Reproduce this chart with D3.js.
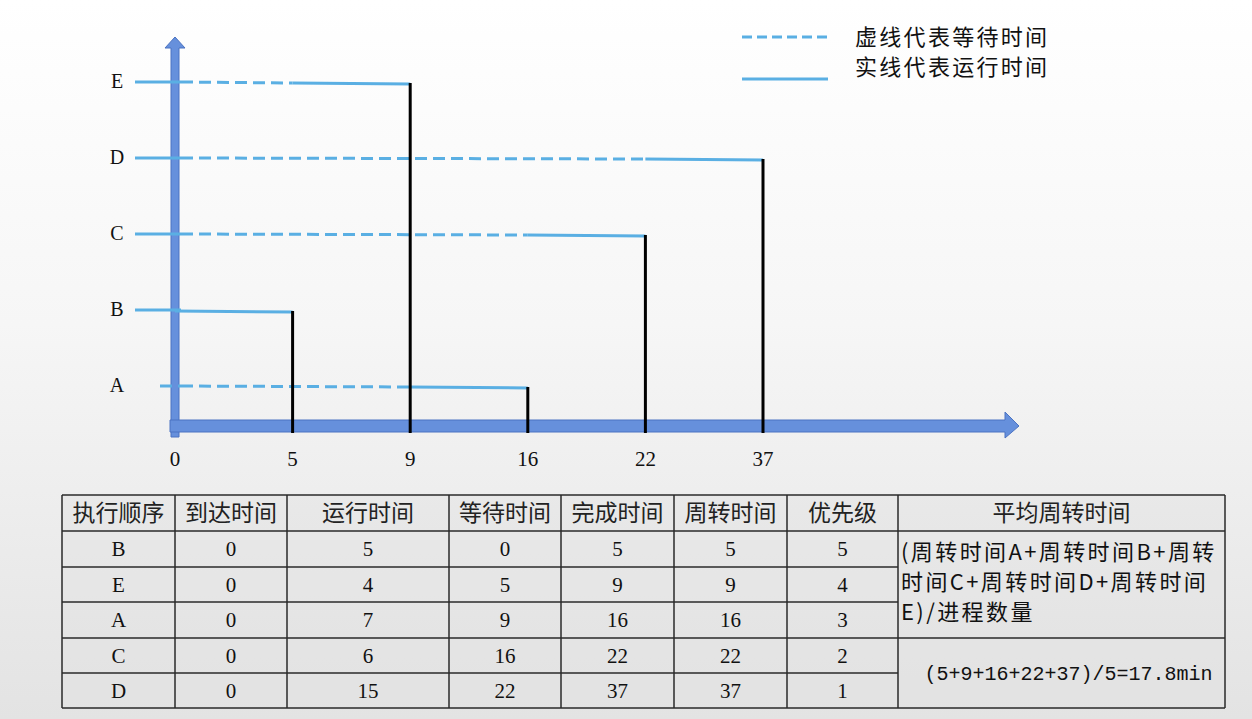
<!DOCTYPE html>
<html><head><meta charset="utf-8">
<script src="https://cdn.jsdelivr.net/npm/d3@7"></script>
<style>
html,body{margin:0;padding:0;}
body{width:1252px;height:719px;overflow:hidden;}
</style></head>
<body>
<svg id="c" width="1252" height="719"></svg>
<script>
// ---- data ----
const timeTicks = [0, 5, 9, 16, 22, 37];
const processes = ["A", "B", "C", "D", "E"];
// each process: waiting interval [arrive, start], running interval [start, finish]
const procArrive = {A: 0, B: 0, C: 0, D: 0, E: 0};
const procStart  = {A: 9, B: 0, C: 16, D: 22, E: 5};
const procFinish = {A: 16, B: 5, C: 22, D: 37, E: 9};

const legendLabels = ["虚线代表等待时间", "实线代表运行时间"];

const tableHeader = ["执行顺序", "到达时间", "运行时间", "等待时间", "完成时间", "周转时间", "优先级", "平均周转时间"];
const execOrder   = ["B", "E", "A", "C", "D"];
const arriveCol   = [0, 0, 0, 0, 0];
const runCol      = [5, 4, 7, 6, 15];
const waitCol     = [0, 5, 9, 16, 22];
const finishCol   = [5, 9, 16, 22, 37];
const turnCol     = [5, 9, 16, 22, 37];
const priorityCol = [5, 4, 3, 2, 1];
const avgFormulaLines = ["(周转时间A+周转时间B+周转", "时间C+周转时间D+周转时间", "E)/进程数量"];
const avgResult = "(5+9+16+22+37)/5=17.8min";

// ---- drawing ----
const svg = d3.select("#c");
const defs = svg.append("defs");
const grad = defs.append("linearGradient").attr("id","bg").attr("x1",0).attr("y1",0).attr("x2",0).attr("y2",1);
grad.append("stop").attr("offset","0%").attr("stop-color","#ffffff");
grad.append("stop").attr("offset","45%").attr("stop-color","#f6f6f6");
grad.append("stop").attr("offset","100%").attr("stop-color","#e3e3e3");
svg.append("rect").attr("width",1252).attr("height",719).attr("fill","url(#bg)");

const serif = "'Liberation Serif','Noto Sans CJK SC',serif";
const cjk = "'Noto Sans CJK SC','Noto Sans',sans-serif";
const lineColor = "#5aafe3";
const axisFill = "#6690dc", axisStroke = "#4b73c2";

const x = d3.scalePoint().domain(timeTicks).range([175, 763]);
const y = d3.scalePoint().domain(processes).range([386, 82]);
const x0 = x(0);
const axisY = 426;

// axes (thick arrows)
svg.append("path")
  .attr("d", `M${x0-4},437 L${x0-4},48 L${x0-10},48 L${x0},37 L${x0+10},48 L${x0+4},48 L${x0+4},437 Z`)
  .attr("fill", axisFill).attr("stroke", axisStroke).attr("stroke-width", 1);
svg.append("path")
  .attr("d", `M170,${axisY-6} L1005,${axisY-6} L1005,${axisY-14} L1019,${axisY} L1005,${axisY+12} L1005,${axisY+6} L170,${axisY+6} Z`)
  .attr("fill", axisFill).attr("stroke", axisStroke).attr("stroke-width", 1);

// tick labels
svg.append("g").selectAll("text").data(timeTicks).join("text")
  .attr("x", d => x(d)).attr("y", 466)
  .attr("text-anchor","middle").attr("font-family", serif).attr("font-size", 21).attr("fill","#111")
  .text(d => d);

// row labels
svg.append("g").selectAll("text").data(processes).join("text")
  .attr("x", 117).attr("y", d => y(d) + 6)
  .attr("text-anchor","middle").attr("font-family", serif).attr("font-size", 20).attr("fill","#111")
  .text(d => d);

const g = svg.append("g");
processes.forEach(p => {
  const yy = y(p);
  const lead = p === "A" ? 15 : 40;
  const waitDash = procStart[p] > procArrive[p];
  // lead-in left of the axis
  g.append("line").attr("x1", x0 - lead).attr("x2", x0 + 6).attr("y1", yy).attr("y2", yy)
    .attr("stroke", lineColor).attr("stroke-width", 3)
    .attr("stroke-dasharray", p === "A" ? "12,6" : null);
  if (waitDash) {
    g.append("line").attr("x1", x0 + 6).attr("x2", x(procStart[p])).attr("y1", yy).attr("y2", yy + 1)
      .attr("stroke", lineColor).attr("stroke-width", 3).attr("stroke-dasharray", "12,6");
  }
  g.append("line").attr("x1", x(procStart[p])).attr("x2", x(procFinish[p])).attr("y1", yy + 1).attr("y2", yy + 2)
    .attr("stroke", lineColor).attr("stroke-width", 3);
});
// completion markers
processes.forEach(p => {
  g.append("line").attr("x1", x(procFinish[p])).attr("x2", x(procFinish[p]))
    .attr("y1", y(p) + 1).attr("y2", axisY + 7)
    .attr("stroke", "#000").attr("stroke-width", 3);
});

// legend
svg.append("line").attr("x1",742).attr("x2",832).attr("y1",37).attr("y2",37)
  .attr("stroke", lineColor).attr("stroke-width",3).attr("stroke-dasharray","10,5");
svg.append("line").attr("x1",742).attr("x2",828).attr("y1",79).attr("y2",79)
  .attr("stroke", lineColor).attr("stroke-width",3);
svg.append("g").selectAll("text").data(legendLabels).join("text")
  .attr("x", 855).attr("y", (d,i) => 45 + i*30)
  .attr("font-family", cjk).attr("font-size", 22).attr("letter-spacing", 2.3).attr("fill","#111")
  .text(d => d);

// table
const colX = [62, 175, 287, 449, 561, 674, 787, 898, 1225];
const rowY = [495, 531, 567, 602, 638, 673, 708];
const tg = svg.append("g");
const columns = [execOrder, arriveCol, runCol, waitCol, finishCol, turnCol, priorityCol];
tg.append("rect").attr("x", colX[0]).attr("y", rowY[0]).attr("width", colX[8]-colX[0]).attr("height", rowY[6]-rowY[0])
  .attr("fill","#e2e2e2").attr("fill-opacity",0.4);
rowY.forEach((yy,i) => {
  if (i === 0 || i === 1 || i === 6) {
    tg.append("line").attr("x1", colX[0]).attr("x2", colX[8]).attr("y1", yy).attr("y2", yy);
  } else {
    tg.append("line").attr("x1", colX[0]).attr("x2", colX[7]).attr("y1", yy).attr("y2", yy);
  }
});
tg.append("line").attr("x1", colX[7]).attr("x2", colX[8]).attr("y1", rowY[4]).attr("y2", rowY[4]);
colX.forEach(xx => tg.append("line").attr("x1", xx).attr("x2", xx).attr("y1", rowY[0]).attr("y2", rowY[6]));
tg.selectAll("line").attr("stroke","#2a2a2a").attr("stroke-width",1.5);

tableHeader.forEach((h,i) => {
  tg.append("text").attr("x", (colX[i]+colX[i+1])/2).attr("y", (rowY[0]+rowY[1])/2 + 8)
    .attr("text-anchor","middle").attr("font-family", cjk).attr("font-size", 23).attr("fill","#222").text(h);
});
columns.forEach((col, c) => {
  col.forEach((v, r) => {
    tg.append("text").attr("x", (colX[c]+colX[c+1])/2).attr("y", (rowY[r+1]+rowY[r+2])/2 + 7)
      .attr("text-anchor","middle").attr("font-family", serif).attr("font-size", 21).attr("fill","#111").text(v);
  });
});
avgFormulaLines.forEach((t,i) => {
  tg.append("text").attr("x", 901).attr("y", 560 + i*30)
    .attr("font-family", cjk).attr("font-size", 22).attr("letter-spacing", 2.4).attr("fill","#111").text(t);
});
tg.append("text").attr("x", (colX[7]+colX[8])/2 + 7).attr("y", (rowY[4]+rowY[6])/2 + 7)
  .attr("text-anchor","middle").attr("font-family", "'Liberation Mono',monospace").attr("font-size", 20).attr("fill","#111").text(avgResult);
</script>
</body></html>
